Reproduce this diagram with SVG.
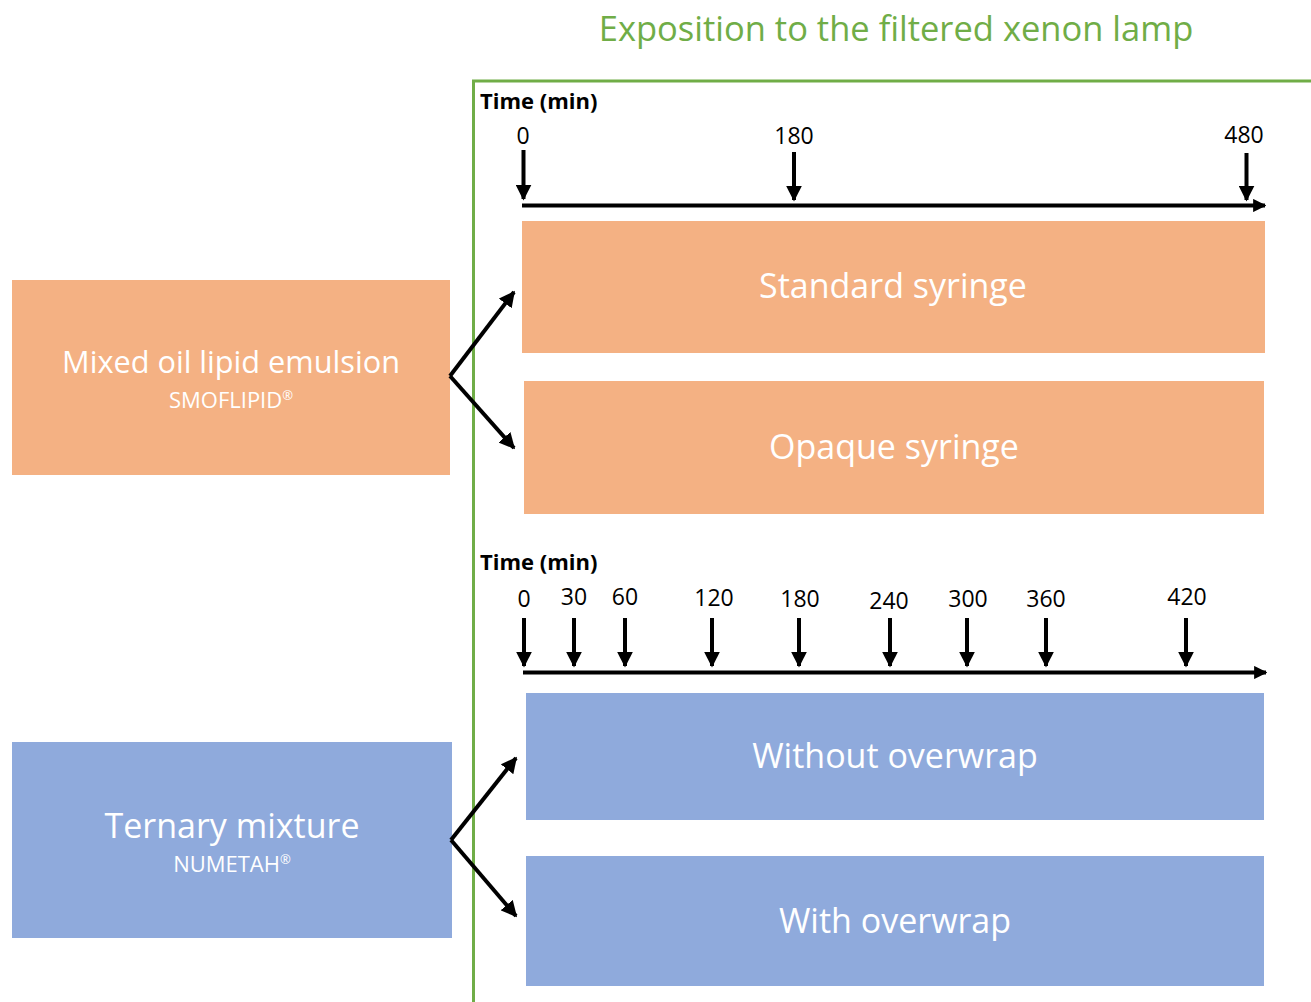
<svg xmlns="http://www.w3.org/2000/svg" width="1311" height="1002" viewBox="0 0 1311 1002">
<defs>
<marker id="ah" viewBox="0 0 10 10" refX="9" refY="5" markerWidth="4" markerHeight="4" orient="auto" markerUnits="strokeWidth">
<path d="M0,0 L10,5 L0,10 z" fill="#000"/>
</marker>
<marker id="ah2" viewBox="0 0 10 10" refX="9" refY="5" markerWidth="3.3" markerHeight="3.3" orient="auto" markerUnits="strokeWidth">
<path d="M0,0 L10,5 L0,10 z" fill="#000"/>
</marker>
</defs>
<style>
.orange{fill:#F4B183;}
.blue{fill:#8FAADC;}
.big{font-family:"Open Sans",Lato,sans-serif;font-size:34px;fill:#fff;text-anchor:middle;}
.mid{font-size:30.7px;}
.small{font-family:"Open Sans",Lato,sans-serif;font-size:22px;fill:#fff;text-anchor:middle;}
.reg{font-size:13px;}
.num{font-family:"Open Sans",Lato,sans-serif;font-size:23px;fill:#000;text-anchor:middle;}
.time{font-family:"Open Sans",Lato,sans-serif;font-size:22px;font-weight:bold;fill:#000;}
.tick{stroke:#000;stroke-width:4;fill:none;marker-end:url(#ah);}
.axis{stroke:#000;stroke-width:4;fill:none;marker-end:url(#ah2);}
.conn{stroke:#000;stroke-width:4;fill:none;marker-end:url(#ah);}
</style>
<rect width="1311" height="1002" fill="#fff"/>
<g id="frame">
<path d="M1311,81 L473.5,81 L473.5,1002" fill="none" stroke="#70AD47" stroke-width="3"/>
<text x="896" y="41" font-family="'Open Sans',Lato,sans-serif" font-size="34.5" fill="#70AD47" text-anchor="middle">Exposition to the filtered xenon lamp</text>
</g>
<g id="timeline-top">
<text class="time" x="480" y="109">Time (min)</text>
<text class="num" x="523" y="144">0</text>
<text class="num" x="794" y="144">180</text>
<text class="num" x="1244" y="143">480</text>
<line class="tick" x1="523.5" y1="150" x2="523.5" y2="199"/>
<line class="tick" x1="794" y1="152" x2="794" y2="200"/>
<line class="tick" x1="1246.5" y1="153" x2="1246.5" y2="200"/>
<line class="axis" x1="522" y1="205.5" x2="1265" y2="205.5"/>
</g>
<g id="timeline-bottom">
<text class="time" x="480" y="570">Time (min)</text>
<text class="num" x="524" y="607">0</text>
<text class="num" x="574" y="605">30</text>
<text class="num" x="625" y="605">60</text>
<text class="num" x="714" y="606">120</text>
<text class="num" x="800" y="607">180</text>
<text class="num" x="889" y="609">240</text>
<text class="num" x="968" y="607">300</text>
<text class="num" x="1046" y="607">360</text>
<text class="num" x="1187" y="605">420</text>
<line class="tick" x1="524" y1="618" x2="524" y2="666"/>
<line class="tick" x1="574" y1="618" x2="574" y2="666"/>
<line class="tick" x1="625" y1="618" x2="625" y2="666"/>
<line class="tick" x1="712" y1="618" x2="712" y2="666"/>
<line class="tick" x1="799" y1="618" x2="799" y2="666"/>
<line class="tick" x1="890" y1="618" x2="890" y2="666"/>
<line class="tick" x1="967" y1="618" x2="967" y2="666"/>
<line class="tick" x1="1046" y1="618" x2="1046" y2="666"/>
<line class="tick" x1="1186" y1="618" x2="1186" y2="666"/>
<line class="axis" x1="523" y1="672.5" x2="1266" y2="672.5"/>
</g>
<g id="lipid">
<rect class="orange" x="12" y="280" width="438" height="195"/>
<text class="big mid" x="231" y="373">Mixed oil lipid emulsion</text>
<text class="small" x="231" y="408">SMOFLIPID<tspan class="reg" dy="-8">®</tspan></text>
</g>
<g id="standard">
<rect class="orange" x="522" y="221" width="743" height="132"/>
<text class="big" x="893" y="298">Standard syringe</text>
</g>
<g id="opaque">
<rect class="orange" x="524" y="381" width="740" height="133"/>
<text class="big" x="894" y="459">Opaque syringe</text>
</g>
<g id="ternary">
<rect class="blue" x="12" y="742" width="440" height="196"/>
<text class="big" x="232" y="838">Ternary mixture</text>
<text class="small" x="232" y="872">NUMETAH<tspan class="reg" dy="-8">®</tspan></text>
</g>
<g id="without">
<rect class="blue" x="526" y="693" width="738" height="127"/>
<text class="big" x="895" y="768">Without overwrap</text>
</g>
<g id="with">
<rect class="blue" x="526" y="856" width="738" height="130"/>
<text class="big" x="895" y="933">With overwrap</text>
</g>
<g id="connectors">
<line class="conn" x1="450" y1="376" x2="514" y2="292"/>
<line class="conn" x1="450" y1="376" x2="514" y2="448"/>
<line class="conn" x1="451" y1="840" x2="516" y2="758"/>
<line class="conn" x1="451" y1="840" x2="516" y2="916"/>
</g>
</svg>
